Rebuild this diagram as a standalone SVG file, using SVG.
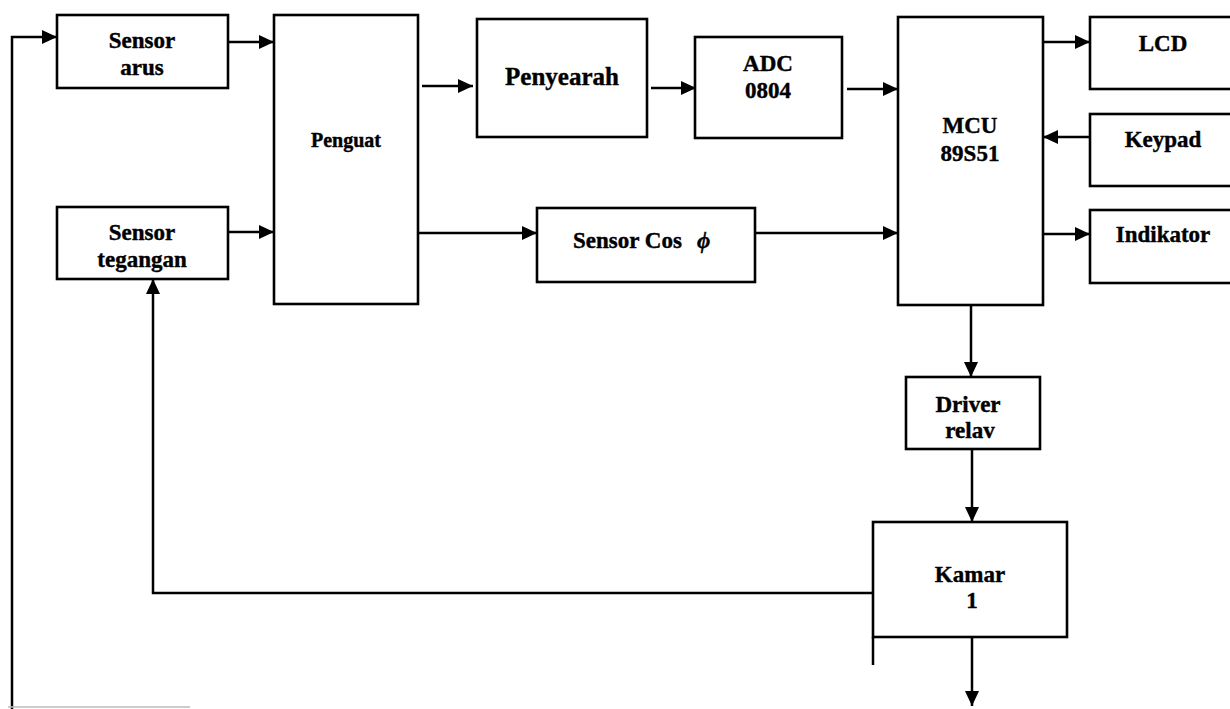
<svg xmlns="http://www.w3.org/2000/svg" width="1230" height="709" viewBox="0 0 1230 709">
<style>
.box{fill:#fff;stroke:#000;stroke-width:2.6}
.t{font-family:"Liberation Serif","Times New Roman",serif;font-weight:bold;font-size:23px;fill:#000;stroke:#000;stroke-width:0.4;text-anchor:middle}
.c{fill:none;stroke:#000;stroke-width:2.5}
</style>
<defs>
<marker id="ah" markerUnits="userSpaceOnUse" markerWidth="16" markerHeight="14" refX="15" refY="7" orient="auto">
<path d="M0,0 L15,7 L0,14 z" fill="#000"/>
</marker>
</defs>
<rect width="1230" height="709" fill="#fff"/>
<g id="sensor-arus"><rect class="box" x="57" y="15" width="171" height="73"/><text class="t" x="142" y="48">Sensor</text><text class="t" x="142" y="75">arus</text></g>
<g id="sensor-tegangan"><rect class="box" x="57" y="207" width="171" height="72"/><text class="t" x="142" y="240">Sensor</text><text class="t" x="142" y="267">tegangan</text></g>
<g id="penguat"><rect class="box" x="274" y="15" width="144" height="289"/><text class="t" x="346" y="147" style="font-size:20px">Penguat</text></g>
<g id="penyearah"><rect class="box" x="477" y="19" width="170" height="118"/><text class="t" x="562" y="85" style="font-size:25px">Penyearah</text></g>
<g id="adc"><rect class="box" x="695" y="37" width="147" height="101"/><text class="t" x="768" y="71">ADC</text><text class="t" x="768" y="98">0804</text></g>
<g id="sensor-cos"><rect class="box" x="537" y="208" width="218" height="74"/><text class="t" x="573" y="248" style="text-anchor:start">Sensor Cos <tspan x="697" font-style="italic">ϕ</tspan></text></g>
<g id="mcu"><rect class="box" x="898" y="17" width="145" height="288"/><text class="t" x="970" y="133">MCU</text><text class="t" x="970" y="161">89S51</text></g>
<g id="lcd"><rect class="box" x="1090" y="17" width="150" height="72"/><text class="t" x="1163" y="51">LCD</text></g>
<g id="keypad"><rect class="box" x="1090" y="114" width="150" height="72"/><text class="t" x="1163" y="147">Keypad</text></g>
<g id="indikator"><rect class="box" x="1090" y="210" width="150" height="73"/><text class="t" x="1163" y="242">Indikator</text></g>
<g id="driver-relay"><rect class="box" x="906" y="377" width="134" height="72"/><text class="t" x="968" y="412">Driver</text><text class="t" x="970" y="438">relav</text></g>
<g id="kamar"><rect class="box" x="873" y="522" width="194" height="115"/><text class="t" x="970" y="582">Kamar</text><text class="t" x="972" y="608">1</text></g>
<g id="connectors">
<polyline class="c" points="12,709 12,37 57,37" marker-end="url(#ah)"/>
<line x1="8" y1="707" x2="190" y2="707" stroke="#bbb" stroke-width="1.5"/>
<line class="c" x1="228" y1="42" x2="274" y2="42" marker-end="url(#ah)"/>
<line class="c" x1="228" y1="232" x2="274" y2="232" marker-end="url(#ah)"/>
<line class="c" x1="422" y1="86" x2="473" y2="86" marker-end="url(#ah)"/>
<line class="c" x1="651" y1="88" x2="696" y2="88" marker-end="url(#ah)"/>
<line class="c" x1="847" y1="89" x2="898" y2="89" marker-end="url(#ah)"/>
<line class="c" x1="418" y1="233" x2="537" y2="233" marker-end="url(#ah)"/>
<line class="c" x1="755" y1="233" x2="898" y2="233" marker-end="url(#ah)"/>
<line class="c" x1="1043" y1="42" x2="1090" y2="42" marker-end="url(#ah)"/>
<line class="c" x1="1090" y1="137" x2="1043" y2="137" marker-end="url(#ah)"/>
<line class="c" x1="1043" y1="234" x2="1090" y2="234" marker-end="url(#ah)"/>
<line class="c" x1="971" y1="305" x2="971" y2="377" marker-end="url(#ah)"/>
<line class="c" x1="972" y1="449" x2="972" y2="522" marker-end="url(#ah)"/>
<line class="c" x1="972" y1="637" x2="972" y2="706" marker-end="url(#ah)"/>
<polyline class="c" points="873,593 153,593 153,279" marker-end="url(#ah)"/>
<line class="c" x1="873" y1="637" x2="873" y2="665"/>
</g>
</svg>
